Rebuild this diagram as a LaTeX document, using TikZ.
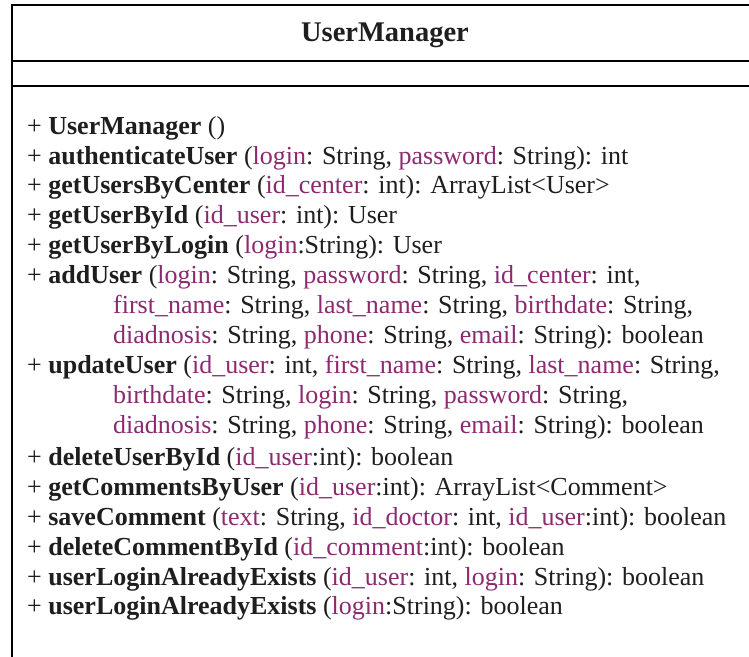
\documentclass[tikz,border=0pt]{standalone}
\usepackage{fontspec}
\setmainfont{Liberation Serif}
\definecolor{param}{RGB}{140,42,112}
\definecolor{ink}{RGB}{30,30,30}
\newcommand{\prm}[1]{\textcolor{param}{#1}}
\newcommand{\mth}[1]{\textbf{#1}}
\begin{document}
\begin{tikzpicture}[x=1pt,y=-1pt,
  member/.style={anchor=base west,inner sep=0pt,font=\fontsize{26}{30}\selectfont,text=ink},
  title/.style={anchor=base,inner sep=0pt,font=\fontsize{28.5}{32}\selectfont\bfseries,text=ink},
  frame/.style={line width=2.6pt,black}]
\useasboundingbox (0,0) rectangle (749,656);
% class frame: open to the right and below
\draw[frame] (760,5) -- (12,5) -- (12,670);
\draw[frame] (12,61) -- (760,61);
\draw[frame] (12,86) -- (760,86);
\node[title] (name) at (385,41) {UserManager};
% operations
\def\ind{113}
\node[member] (m1)  at (27,134) {+ \mth{UserManager} ()};
\node[member] (m2)  at (27,164) {+ \mth{authenticateUser} (\prm{login}: String, \prm{password}: String): int};
\node[member] (m3)  at (27,193) {+ \mth{getUsersByCenter} (\prm{id\_center}: int): ArrayList<User>};
\node[member] (m4)  at (27,223) {+ \mth{getUserById} (\prm{id\_user}: int): User};
\node[member] (m5)  at (27,253) {+ \mth{getUserByLogin} (\prm{login}:String): User};
\node[member] (m6)  at (27,283) {+ \mth{addUser} (\prm{login}: String, \prm{password}: String, \prm{id\_center}: int,};
\node[member] (m6b) at (\ind,313) {\prm{first\_name}: String, \prm{last\_name}: String, \prm{birthdate}: String,};
\node[member] (m6c) at (\ind,343) {\prm{diadnosis}: String, \prm{phone}: String, \prm{email}: String): boolean};
\node[member] (m7)  at (27,373) {+ \mth{updateUser} (\prm{id\_user}: int, \prm{first\_name}: String, \prm{last\_name}: String,};
\node[member] (m7b) at (\ind,403) {\prm{birthdate}: String, \prm{login}: String, \prm{password}: String,};
\node[member] (m7c) at (\ind,433) {\prm{diadnosis}: String, \prm{phone}: String, \prm{email}: String): boolean};
\node[member] (m8)  at (27,465) {+ \mth{deleteUserById} (\prm{id\_user}:int): boolean};
\node[member] (m9)  at (27,495) {+ \mth{getCommentsByUser} (\prm{id\_user}:int): ArrayList<Comment>};
\node[member] (m10) at (27,525) {+ \mth{saveComment} (\prm{text}: String, \prm{id\_doctor}: int, \prm{id\_user}:int): boolean};
\node[member] (m11) at (27,555) {+ \mth{deleteCommentById} (\prm{id\_comment}:int): boolean};
\node[member] (m12) at (27,585) {+ \mth{userLoginAlreadyExists} (\prm{id\_user}: int, \prm{login}: String): boolean};
\node[member] (m13) at (27,614) {+ \mth{userLoginAlreadyExists} (\prm{login}:String): boolean};
\end{tikzpicture}
\end{document}
